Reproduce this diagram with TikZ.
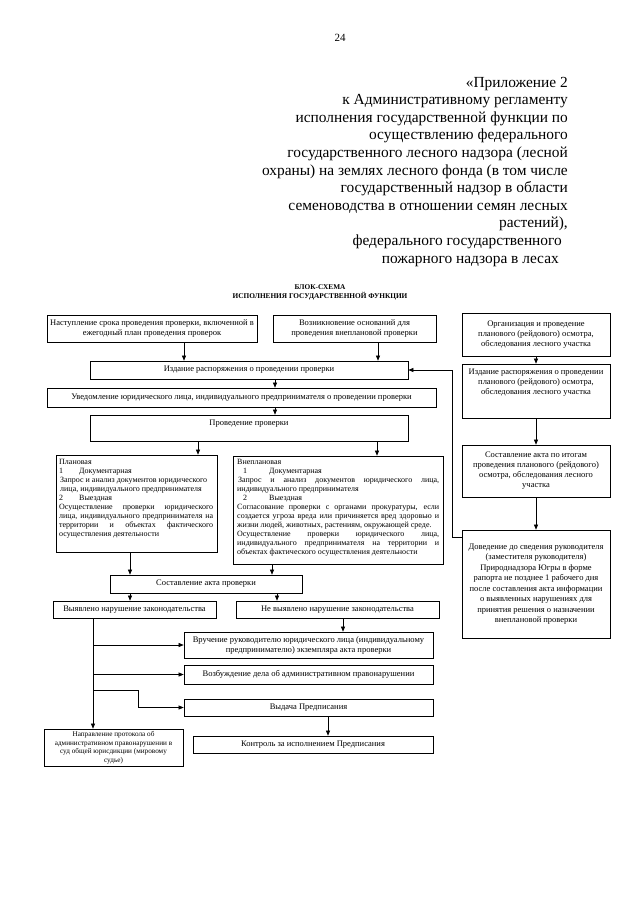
\documentclass[tikz,border=0pt]{standalone}
\usepackage{fontspec}
\setmainfont{Liberation Serif}
\usetikzlibrary{arrows.meta}
\begin{document}
\begin{tikzpicture}[x=1pt,y=-1pt,
  bx/.style={draw, line width=0.7pt, inner sep=1pt, align=center, font=\fontsize{8.5}{10}\selectfont},
  txt/.style={inner sep=0pt, font=\fontsize{8.5}{10}\selectfont},
  small/.style={inner sep=0pt, font=\fontsize{8}{9}\selectfont},
  hdr/.style={anchor=base east, inner sep=0pt, font=\fontsize{15.4}{17}\selectfont},
  arr/.style={line width=0.6pt, -{Triangle[length=5pt,width=4pt]}},
  ln/.style={line width=0.6pt}]
\useasboundingbox (0,0) rectangle (640,905);
\fill[white] (0,0) rectangle (640,905);

% header
\node[inner sep=0pt, font=\fontsize{11}{13}\selectfont] (pg) at (340,38) {24};
\node[hdr] (h1) at (568,87) {«Приложение 2};
\node[hdr] (h2) at (568,104.6) {к Административному регламенту};
\node[hdr] (h3) at (568,122.2) {исполнения государственной функции по};
\node[hdr] (h4) at (568,139.8) {осуществлению федерального};
\node[hdr] (h5) at (568,157.4) {государственного лесного надзора (лесной};
\node[hdr] (h6) at (568,175) {охраны) на землях лесного фонда (в том числе};
\node[hdr] (h7) at (568,192.6) {государственный надзор в области};
\node[hdr] (h8) at (568,210.2) {семеноводства в отношении семян лесных};
\node[hdr] (h9) at (568,227.8) {растений),};
\node[hdr] (h10) at (562,245.4) {федерального государственного};
\node[hdr] (h11) at (559,263) {пожарного надзора в лесах};

% title
\node[inner sep=0pt, font=\fontsize{7.3}{9}\selectfont\bfseries, align=center] (title) at (320,292) {БЛОК-СХЕМА\\ИСПОЛНЕНИЯ ГОСУДАРСТВЕННОЙ ФУНКЦИИ};

% boxes
\node[bx, minimum width=210pt, minimum height=27pt] (A) at (152,328.5) {Наступление срока проведения проверки, включенной в\\ежегодный план проведения проверок};
\node[bx, minimum width=163pt, minimum height=27pt] (B) at (354.5,328.5) {Возникновение оснований для\\проведения внеплановой проверки};
\node[bx, minimum width=148pt, minimum height=43pt] (C) at (536,334.5) {Организация и проведение\\планового (рейдового) осмотра,\\обследования лесного участка};
\node[bx, minimum width=318pt, minimum height=18pt] (D) at (249,370) {Издание распоряжения о проведении проверки};
\node[bx, minimum width=389pt, minimum height=19pt] (E) at (241.5,397.5) {Уведомление юридического лица, индивидуального предпринимателя о проведении проверки};
\node[bx, minimum width=318pt, minimum height=26pt] (F) at (249,428) {};
\node[txt] (Ft) at (249,424) {Проведение проверки};

\node[bx, minimum width=161pt, minimum height=97pt] (G) at (136.5,503.5) {};
\node[small, anchor=north west, text width=154pt, align=justify] (Gt) at (59,459) {Плановая\\
\makebox[20pt][l]{1}Документарная\\
\hspace*{1pt}Запрос и анализ документов юридического\\
\hspace*{1pt}лица, индивидуального предпринимателя\\
\makebox[20pt][l]{2}Выездная\\
Осуществление проверки юридического\linebreak лица, индивидуального предпринимателя на\linebreak территории и объектах фактического\linebreak осуществления деятельности};

\node[bx, minimum width=210pt, minimum height=108pt] (H) at (338,510) {};
\node[small, anchor=north west, text width=202pt, align=justify] (Ht) at (237,459) {Внеплановая\\
\hspace*{6pt}\makebox[26pt][l]{1}Документарная\\
\hspace*{1pt}Запрос и анализ документов юридического лица,\linebreak
индивидуального предпринимателя\\
\hspace*{6pt}\makebox[26pt][l]{2}Выездная\\
Согласование проверки с органами прокуратуры, если\linebreak создается угроза вреда или причиняется вред здоровью и\linebreak жизни людей, животных, растениям, окружающей среде.\\
Осуществление проверки юридического лица,\linebreak индивидуального предпринимателя на территории и\linebreak объектах фактического осуществления деятельности};

\node[bx, minimum width=192pt, minimum height=18pt] (I) at (206,584) {Составление акта проверки};
\node[bx, minimum width=163pt, minimum height=17pt] (J) at (134.5,609.5) {Выявлено нарушение законодательства};
\node[bx, minimum width=203pt, minimum height=17pt] (K) at (337.5,609.5) {Не выявлено нарушение законодательства};
\node[bx, minimum width=249pt, minimum height=26pt] (L) at (308.5,645) {Вручение руководителю юридического лица (индивидуальному\\предпринимателю) экземпляра акта проверки};
\node[bx, minimum width=249pt, minimum height=19pt] (N) at (308.5,674.5) {Возбуждение дела об административном правонарушении};
\node[bx, minimum width=249pt, minimum height=17pt] (O) at (308.5,707.5) {Выдача Предписания};
\node[bx, minimum width=240pt, minimum height=17pt] (P) at (313,744.5) {Контроль за исполнением Предписания};
\node[bx, minimum width=139pt, minimum height=37pt, font=\fontsize{7.2}{8.5}\selectfont] (M) at (113.5,747.5) {Направление протокола об\\административном правонарушении в\\суд общей юрисдикции (мировому\\судье)};

\node[bx, minimum width=148pt, minimum height=54pt] (Q) at (536,391) {};
\node[txt, align=center, anchor=north] (Qt) at (536,369) {Издание распоряжения о проведении\\планового (рейдового) осмотра,\\обследования лесного участка};
\node[bx, minimum width=148pt, minimum height=52pt, font=\fontsize{8.5}{10}\selectfont] (R) at (536,471) {Составление акта по итогам\\проведения планового (рейдового)\\осмотра, обследования лесного\\участка};
\node[bx, minimum width=148pt, minimum height=108pt, font=\fontsize{8.5}{10.5}\selectfont] (S) at (536,584) {Доведение до сведения руководителя\\(заместителя руководителя)\\Природнадзора Югры в форме\\рапорта не позднее 1 рабочего дня\\после составления акта информации\\о выявленных нарушениях для\\принятия решения о назначении\\внеплановой проверки};

% connectors
\draw[arr] (184,0 |- A.south) -- (184,0 |- D.north);
\draw[arr] (378,0 |- B.south) -- (378,0 |- D.north);
\draw[arr] (275,0 |- D.south) -- (275,0 |- E.north);
\draw[arr] (275,0 |- E.south) -- (275,0 |- F.north);
\draw[arr] (198,0 |- F.south) -- (198,0 |- G.north);
\draw[arr] (377,0 |- F.south) -- (377,0 |- H.north);
\draw[arr] (130,0 |- G.south) -- (130,0 |- I.north);
\draw[arr] (272,0 |- H.south) -- (272,0 |- I.north);
\draw[arr] (130,0 |- I.south) -- (130,0 |- J.north);
\draw[arr] (277,0 |- I.south) -- (277,0 |- K.north);
\draw[arr] (343,0 |- K.south) -- (343,0 |- L.north);
\draw[arr] (93,0 |- J.south) -- (93,0 |- M.north);
\coordinate (b1) at (93,645);
\coordinate (b2) at (93,674.5);
\coordinate (b3) at (93,690);
\draw[arr] (b1) -- (L.west);
\draw[arr] (b2) -- (N.west);
\draw[arr] (b3) -- (138,690) -- (138,0 |- O.west) -- (O.west);
\draw[arr] (328,0 |- O.south) -- (328,0 |- P.north);
\draw[arr] (C.south) -- (Q.north);
\draw[arr] (Q.south) -- (R.north);
\draw[arr] (R.south) -- (S.north);
\draw[arr] (S.west |- 0,537) -- (452,537) -- (452,0 |- D.east) -- (D.east);
\end{tikzpicture}
\end{document}
